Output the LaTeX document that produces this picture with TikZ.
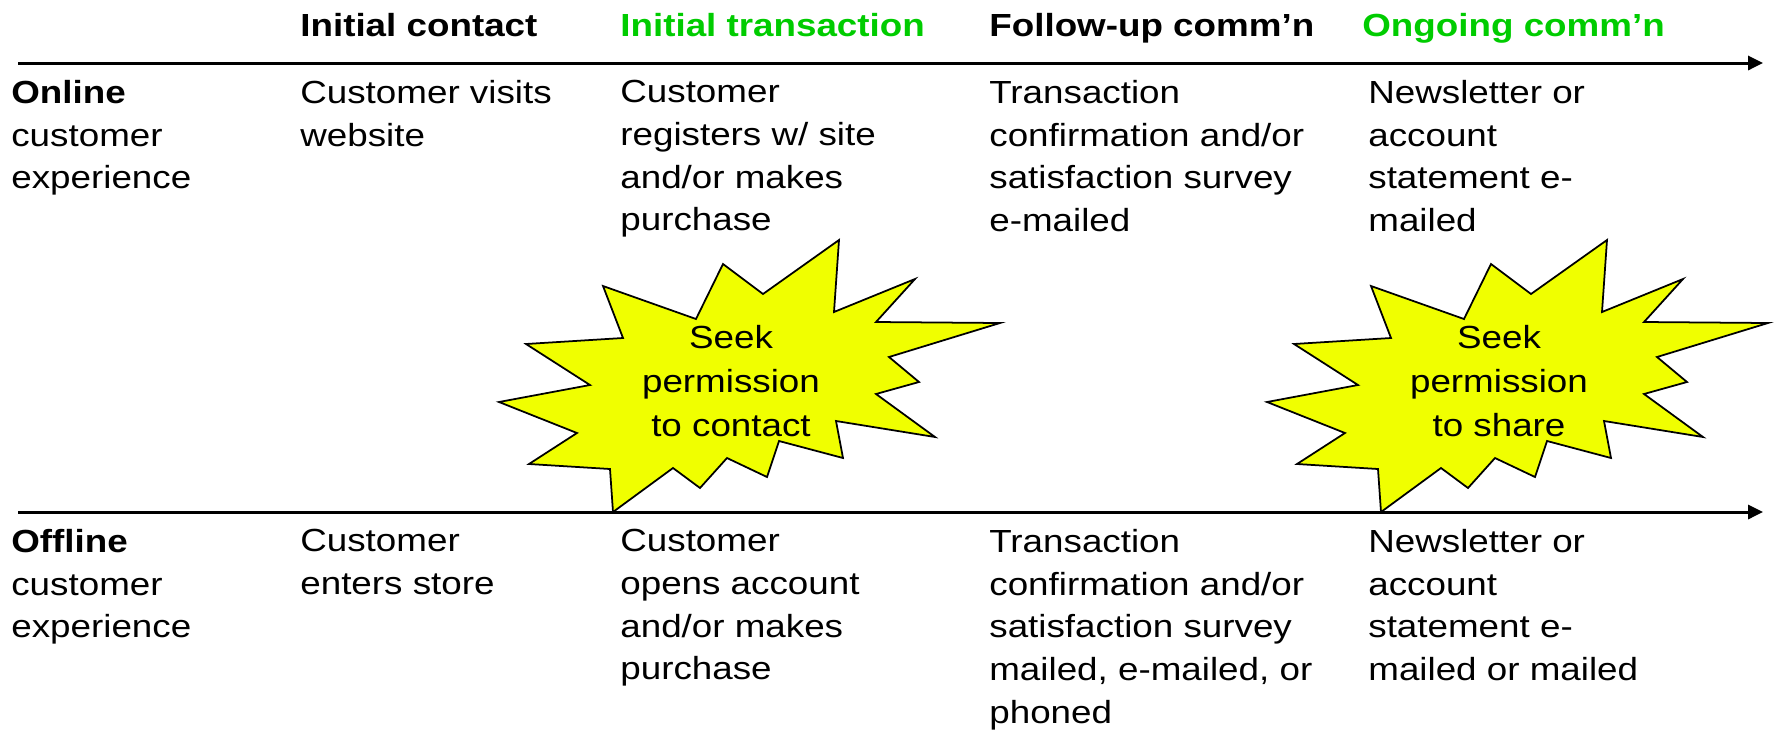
\documentclass[tikz,border=0pt]{standalone}
\usepackage{fontspec}
\setmainfont[FakeStretch=1.15]{Liberation Sans}
\usetikzlibrary{arrows.meta}

\definecolor{phasegreen}{RGB}{0,204,0}
\definecolor{burstyellow}{RGB}{240,255,0}
\newcommand{\cellfont}{\fontsize{18.2pt}{24.3pt}\selectfont}
\newcommand{\burstfont}{\fontsize{18.2pt}{25pt}\selectfont}
% starburst outline, given around the centre of its text
\newcommand{\burstoutline}{(109,-140) -- (104,-68) -- (185,-101) -- (146,-58) -- (270,-57)
  -- (159,-23) -- (189,2) -- (146,14) -- (205,57) -- (106,41) -- (113,78)
  -- (49,61) -- (37,97) -- (-3,78) -- (-30,108) -- (-57,88) -- (-117,132)
  -- (-120,89) -- (-201,84) -- (-153,53) -- (-231,22) -- (-140,5) -- (-204,-36)
  -- (-107,-42) -- (-127,-94) -- (-34,-61) -- (-7,-116) -- (33,-86) -- cycle}

\begin{document}
\begin{tikzpicture}[x=0.2mm, y=-0.2mm,
  cell/.style={anchor=north west, inner sep=0pt, align=left, font=\cellfont,
    execute at begin node=\strut},
  phase/.style={cell, font=\cellfont\bfseries},
  timeline/.style={line width=1.7pt, -{Triangle[length=8.5pt,width=8pt]}},
  burst/.style={draw=black, line width=1pt, fill=burstyellow, line join=miter},
  bursttext/.style={anchor=north, inner sep=0pt, align=center, font=\burstfont,
    execute at begin node=\strut}]
\useasboundingbox (0,0) rectangle (1777,735);

% Phases along the top
\node[phase] (contact) at (300,6) {Initial contact};
\node[phase, phasegreen] (transaction) at (620,6) {Initial transaction};
\node[phase] (followup) at (989,6) {Follow-up comm’n};
\node[phase, phasegreen] (ongoing) at (1362,6) {Ongoing comm’n};

% Time lines
\coordinate (online start) at (18,63);
\coordinate (online end) at (1763,63);
\coordinate (offline start) at (18,512);
\coordinate (offline end) at (1763,512);
\draw[timeline] (online start) -- (online end);
\draw[timeline] (offline start) -- (offline end);

% Permission bursts
\draw[burst, shift={(730,380)}] \burstoutline;
\draw[burst, shift={(1498,380)}] \burstoutline;
\node[bursttext] (ask contact) at (731,325) {Seek\\permission\\to contact};
\node[bursttext] (ask share) at (1499,325) {Seek\\permission\\to share};

% Online row
\node[cell] (online) at (11,80) {\textbf{Online}\\customer\\experience};
\node[cell] (online visit) at (300,80) {Customer visits\\website};
\node[cell] (online register) at (620,80) {Customer\\registers w/ site\\and/or makes\\purchase};
\node[cell] (online confirm) at (989,80) {Transaction\\confirmation and/or\\satisfaction survey\\e-mailed};
\node[cell] (online news) at (1368,80) {Newsletter or\\account\\statement e-\\mailed};

% Offline row
\node[cell] (offline) at (11,529) {\textbf{Offline}\\customer\\experience};
\node[cell] (offline visit) at (300,529) {Customer\\enters store};
\node[cell] (offline account) at (620,529) {Customer\\opens account\\and/or makes\\purchase};
\node[cell] (offline confirm) at (989,529) {Transaction\\confirmation and/or\\satisfaction survey\\mailed, e-mailed, or\\phoned};
\node[cell] (offline news) at (1368,529) {Newsletter or\\account\\statement e-\\mailed or mailed};
\end{tikzpicture}
\end{document}
